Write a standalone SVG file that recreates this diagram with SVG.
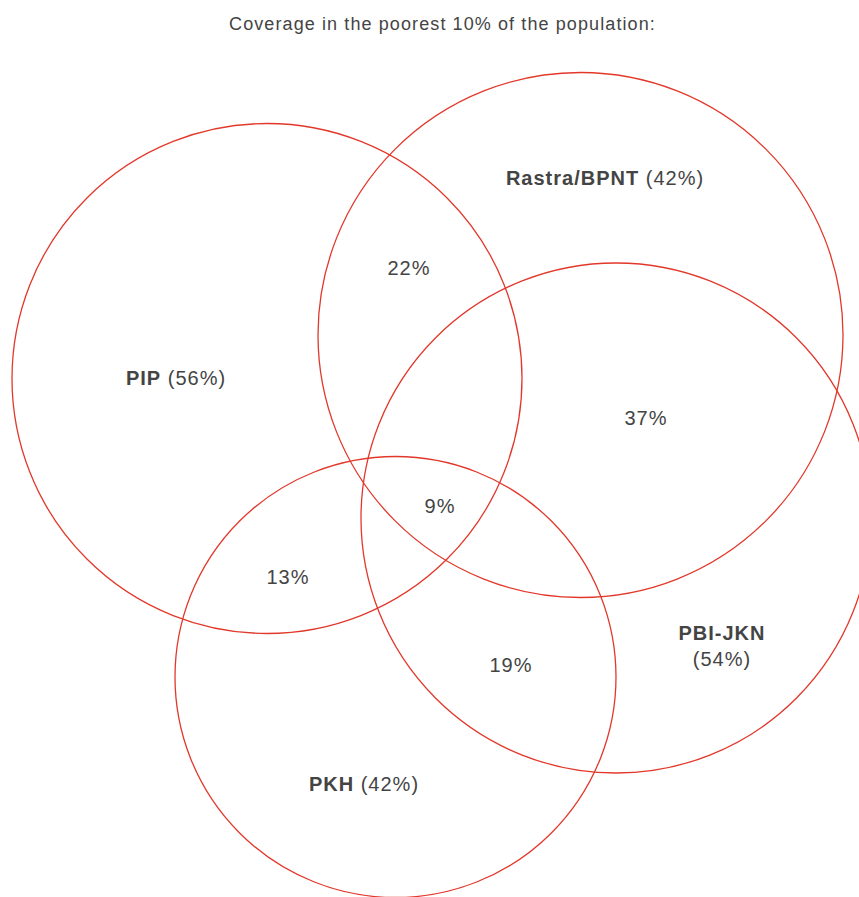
<svg xmlns="http://www.w3.org/2000/svg" width="859" height="897" viewBox="0 0 859 897">
<style>
.c{fill:none;stroke:#e2382b;stroke-width:1.3}
text{font-family:"Liberation Sans",Arial,sans-serif;fill:#444;text-anchor:middle;font-size:20px;letter-spacing:1px}
.t{font-size:18px;letter-spacing:1.1px}
.b{font-weight:bold}
</style>
<rect width="859" height="897" fill="#fff"/>
<text class="t" x="442.5" y="30">Coverage in the poorest 10% of the population:</text>
<g id="pip"><circle class="c" cx="267" cy="378.5" r="255"/><text x="176" y="385"><tspan class="b">PIP</tspan> (56%)</text></g>
<g id="rastra"><circle class="c" cx="580.5" cy="335" r="262.5"/><text x="605" y="185"><tspan class="b">Rastra/BPNT</tspan> (42%)</text></g>
<g id="pbi"><circle class="c" cx="616" cy="518" r="255"/><text x="722" y="640" class="b">PBI-JKN</text><text x="722" y="666">(54%)</text></g>
<g id="pkh"><circle class="c" cx="395.5" cy="677" r="220.5"/><text x="364" y="791"><tspan class="b">PKH</tspan> (42%)</text></g>
<g id="overlaps">
<text x="409" y="275">22%</text>
<text x="646" y="425">37%</text>
<text x="440" y="513">9%</text>
<text x="288" y="584">13%</text>
<text x="511" y="672">19%</text>
</g>
</svg>
